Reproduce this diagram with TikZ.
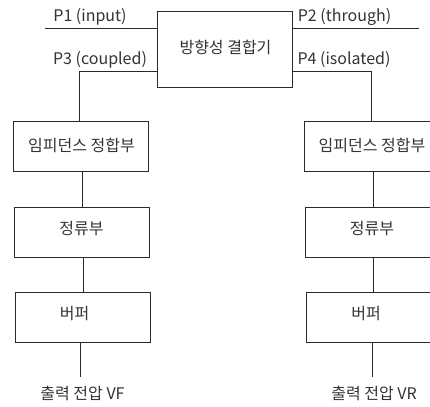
\documentclass[tikz,border=0pt]{standalone}
\usepackage{fontspec}
\setmainfont{Noto Sans CJK KR}
\definecolor{ink}{HTML}{2A2A2A}
\definecolor{txt}{HTML}{333333}
\begin{document}
\begin{tikzpicture}[x=1pt,y=-1pt,
  every node/.style={font=\fontsize{16}{18}\selectfont, text=txt},
  blk/.style={draw=ink, line width=0.8pt, minimum width=135pt, minimum height=50pt, inner sep=0pt},
  lbl/.style={inner sep=0pt, anchor=base},
  wire/.style={draw=ink, line width=0.8pt}]
\useasboundingbox (0,0) rectangle (430,406);
\clip (0,0) rectangle (430,406);
% coupler
\node[blk, minimum width=135pt, minimum height=76pt] (cp) at (224.5,49) {};
\node[inner sep=0pt] (cpt) at (225.5,47) {방향성 결합기};
% ports
\coordinate (p1) at (45,28);
\coordinate (p2) at (419,28);
\draw[wire] (p1) -- (cp.west |- p1);
\draw[wire] (cp.east |- p2) -- (p2);
\node[lbl] (l1) at (90,22) {P1 (input)};
\node[lbl] (l2) at (344.5,22) {P2 (through)};
\node[lbl] (l3) at (100,65) {P3 (coupled)};
\node[lbl] (l4) at (344,65) {P4 (isolated)};
% left chain
\node[blk] (impL) at (80.5,146) {};
\node[blk] (recL) at (81.5,232) {};
\node[blk] (bufL) at (82.5,317.5) {};
\node[inner sep=0pt] at (81.5,145) {임피던스 정합부};
\node[inner sep=0pt] at (81.5,229) {정류부};
\node[inner sep=0pt] at (74.5,314) {버퍼};
% right chain
\node[blk] (impR) at (371.5,146) {};
\node[blk] (recR) at (372.5,232) {};
\node[blk] (bufR) at (373.5,317.5) {};
\node[inner sep=0pt] at (372,145) {임피던스 정합부};
\node[inner sep=0pt] at (372,229) {정류부};
\node[inner sep=0pt] at (366,314) {버퍼};
% coupler to chains
\coordinate (c3) at (79,71);
\coordinate (c4) at (371,71);
\draw[wire] (cp.west |- c3) -- (c3) -- (c3 |- impL.north);
\draw[wire] (cp.east |- c4) -- (c4) -- (c4 |- impR.north);
% chain connectors
\draw[wire] (impL.south -| 82,0) -- (recL.north -| 82,0);
\draw[wire] (recL.south -| 83,0) -- (bufL.north -| 83,0);
\draw[wire] (impR.south -| 373,0) -- (recR.north -| 373,0);
\draw[wire] (recR.south -| 373,0) -- (bufR.north -| 373,0);
% outputs
\coordinate (oL) at (80,377);
\coordinate (oR) at (372,377);
\draw[wire] (bufL.south -| oL) -- (oL);
\draw[wire] (bufR.south -| oR) -- (oR);
\node[inner sep=0pt] (outL) at (82.5,393) {출력 전압 VF};
\node[inner sep=0pt] (outR) at (374,393) {출력 전압 VR};
\end{tikzpicture}
\end{document}
